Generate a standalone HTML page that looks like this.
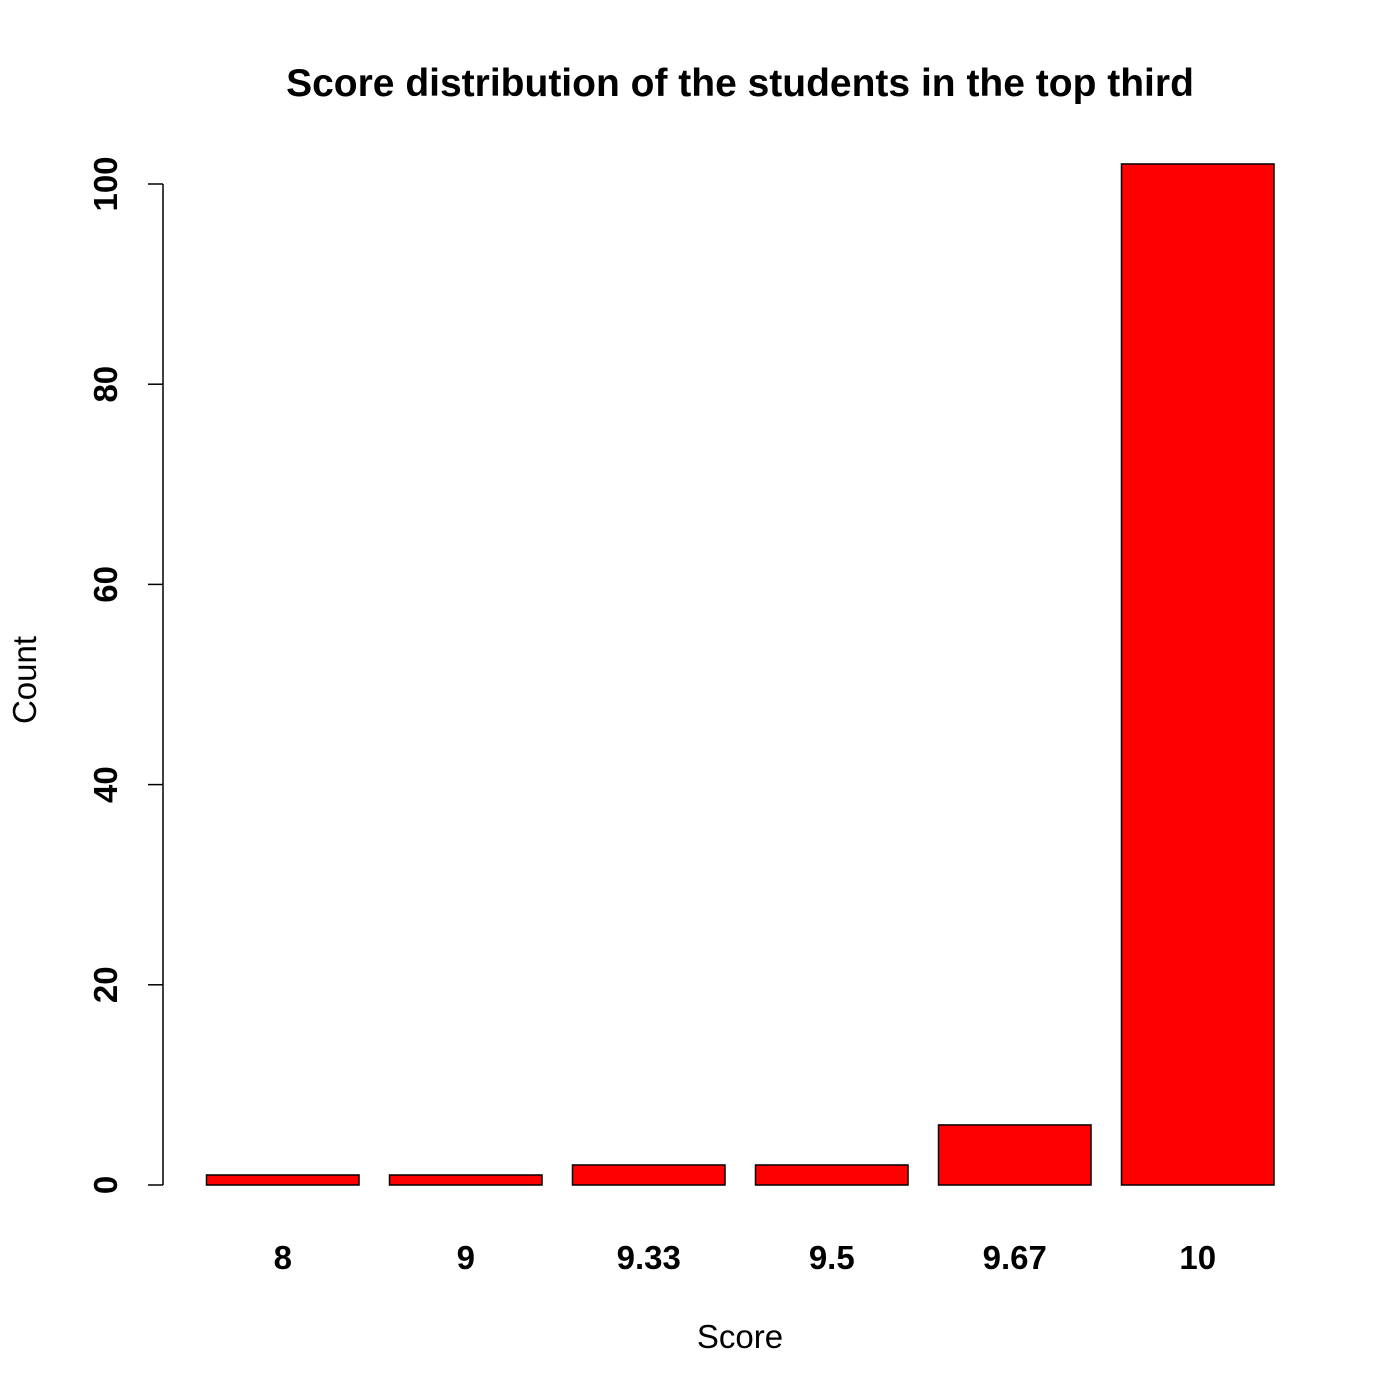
<!DOCTYPE html>
<html><head><meta charset="utf-8"><style>
html,body{margin:0;padding:0;background:#fff;}
svg{display:block;font-family:"Liberation Sans",Arial,sans-serif;}
</style></head><body>
<svg id="chart" width="1400" height="1400" viewBox="0 0 1400 1400">
<text x="740" y="96" text-anchor="middle" font-size="39" font-weight="bold">Score distribution of the students in the top third</text>
<text x="740" y="1348" text-anchor="middle" font-size="33">Score</text>
<text transform="translate(36,680) rotate(-90)" text-anchor="middle" font-size="33">Count</text>
<g id="bars"></g>
<g id="yaxis"></g>
<g id="xlabels"></g>
</svg>
<script>
const categories = ["8","9","9.33","9.5","9.67","10"];
const counts = [1,1,2,2,6,102];
const yTicks = [0,20,40,60,80,100];

const NS = "http://www.w3.org/2000/svg";
function yScale(v){ return 1185 - v*10.01; }
function xScale(u){ return 206.5 + (u-0.2)*152.5; }

const bars = document.getElementById('bars');
categories.forEach((c,i)=>{
  const left = 0.2 + 1.2*i;
  const r = document.createElementNS(NS,'rect');
  r.setAttribute('x', xScale(left));
  r.setAttribute('y', yScale(counts[i]));
  r.setAttribute('width', xScale(left+1)-xScale(left));
  r.setAttribute('height', yScale(0)-yScale(counts[i]));
  r.setAttribute('fill','#ff0000');
  r.setAttribute('stroke','#000');
  r.setAttribute('stroke-width','1.5');
  
  
  bars.appendChild(r);
  const t = document.createElementNS(NS,'text');
  t.setAttribute('x', xScale(left+0.5));
  t.setAttribute('y', 1269);
  t.setAttribute('text-anchor','middle');
  t.setAttribute('font-size','33');
  t.setAttribute('font-weight','bold');
  t.textContent = c;
  
  
  document.getElementById('xlabels').appendChild(t);
});

const ya = document.getElementById('yaxis');
const axl = document.createElementNS(NS,'line');
axl.setAttribute('x1',163); axl.setAttribute('x2',163);
axl.setAttribute('y1',yScale(yTicks[0])); axl.setAttribute('y2',yScale(yTicks[yTicks.length-1]));
axl.setAttribute('stroke','#000'); axl.setAttribute('stroke-width','1.5');


ya.appendChild(axl);
yTicks.forEach(v=>{
  const y = yScale(v);
  const l = document.createElementNS(NS,'line');
  l.setAttribute('x1',148); l.setAttribute('x2',163);
  l.setAttribute('y1',y); l.setAttribute('y2',y);
  l.setAttribute('stroke','#000'); l.setAttribute('stroke-width','1.5');
  
  
  ya.appendChild(l);
  const t = document.createElementNS(NS,'text');
  t.setAttribute('transform','translate(117,'+y+') rotate(-90)');
  t.setAttribute('text-anchor','middle');
  t.setAttribute('font-size','33');
  t.setAttribute('font-weight','bold');
  t.textContent = v;
  
  
  ya.appendChild(t);
});
</script>
</body></html>
